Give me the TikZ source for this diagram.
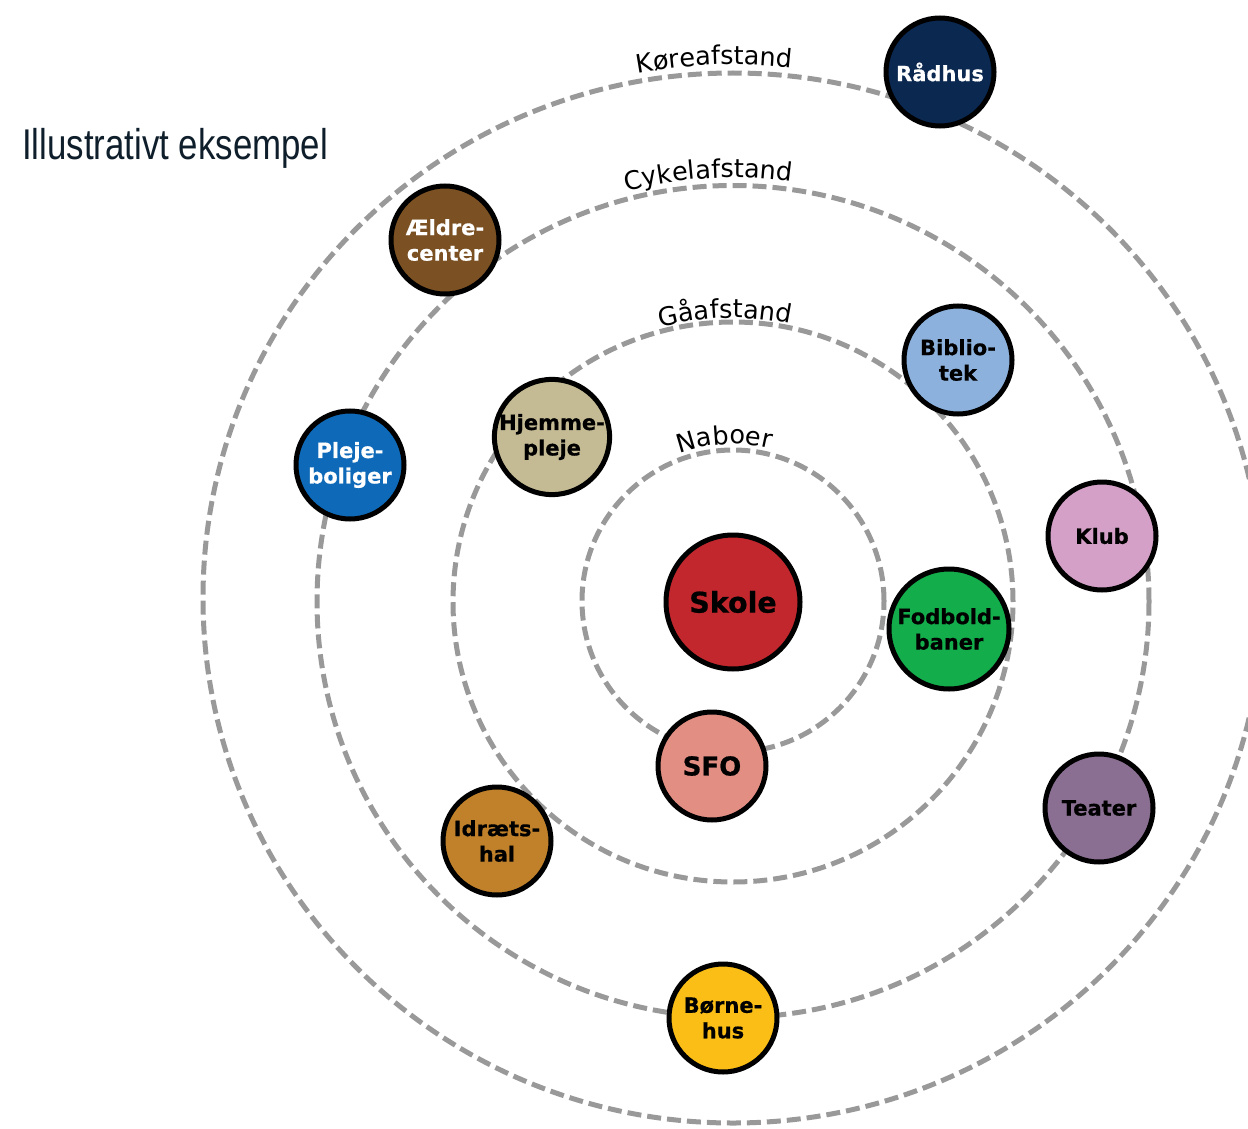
\documentclass[tikz,border=0pt]{standalone}
\usepackage{fontspec}
\usetikzlibrary{decorations.text}
\newfontfamily\dejavu{DejaVu Sans}
\newfontfamily\heavy[FakeBold=0.6]{DejaVu Sans Bold}
\newfontfamily\titlefont[FakeStretch=0.81]{Liberation Sans}
\newcommand{\arcfont}{\dejavu\fontsize{25.5}{30}\selectfont}
\definecolor{ringgray}{HTML}{999999}
\definecolor{titlecol}{HTML}{0F1E2B}
\definecolor{cSkole}{HTML}{C1272D}
\definecolor{cSFO}{HTML}{E28E83}
\definecolor{cFod}{HTML}{13AD4B}
\definecolor{cBib}{HTML}{8CB1DC}
\definecolor{cHjem}{HTML}{C4BB94}
\definecolor{cPleje}{HTML}{0E6AB8}
\definecolor{cAeld}{HTML}{7B5022}
\definecolor{cIdr}{HTML}{C1812B}
\definecolor{cKlub}{HTML}{D4A0C7}
\definecolor{cTeater}{HTML}{8A6F92}
\definecolor{cBorn}{HTML}{FBBE16}
\definecolor{cRaad}{HTML}{0A2850}
\begin{document}
\begin{tikzpicture}[x=1pt,y=1pt,
  poi/.style={circle, draw=black, line width=5pt, minimum size=108pt, inner sep=0pt, align=center,
    font=\heavy\fontsize{21}{25.5}\selectfont},
  ring/.style={draw=ringgray, line width=5pt, dash pattern=on 14pt off 6pt},
  arclabel/.style={decorate, decoration={text along path, text align=center, text={|\arcfont|#1}}}
]
\useasboundingbox (0,0) rectangle (1248,-1129);
\clip (0,0) rectangle (1248,-1129);

% centres of the rings
\coordinate (O1) at (733,-601);
\coordinate (O2) at (733,-602);
\coordinate (O3) at (733,-601.5);
\coordinate (O4) at (733,-598);

% rings
\draw[ring] (O1) circle[radius=151];
\draw[ring] (O2) circle[radius=280];
\draw[ring] (O3) circle[radius=416];
\draw[ring] (O4) ellipse[x radius=530, y radius=525];

% ring labels
\path[arclabel=Naboer] ([shift={(123:157)}]O1) arc[start angle=123, end angle=63, radius=157];
\path[arclabel=Gåafstand] ([shift={(116.6:284)}]O2) arc[start angle=116.6, end angle=66.6, radius=284];
\path[arclabel=Cykelafstand] ([shift={(113.3:424)}]O3) arc[start angle=113.3, end angle=73.3, radius=424];
\path[arclabel=Køreafstand] ([shift={(107:533.5)}]O4) arc[start angle=107, end angle=77, radius=533.5];

% title
\node[anchor=base west, inner sep=0pt, text=titlecol, font=\titlefont\fontsize{43}{50}\selectfont] (title) at (22,-160) {Illustrativt eksempel};

% places
\node[poi, fill=cSkole, minimum size=134pt, font=\heavy\fontsize{28.5}{34}\selectfont] (skole) at (733,-602) {Skole};
\node[poi, fill=cSFO, font=\heavy\fontsize{26}{31}\selectfont] (sfo) at (712,-766) {SFO};
\node[poi, fill=cFod, minimum size=120pt] (fod) at (949,-629) {Fodbold-\\baner};
\node[poi, fill=cBib] (bib) at (958,-360) {Biblio-\\tek};
\node[poi, fill=cHjem, minimum size=113pt] (hjem) at (552,-437) {Hjemme-\\pleje};
\node[poi, fill=cPleje, text=white] (pleje) at (350,-465) {Pleje-\\boliger};
\node[poi, fill=cAeld, text=white] (aeld) at (445,-240) {Ældre-\\center};
\node[poi, fill=cIdr] (idr) at (497,-841) {Idræts-\\hal};
\node[poi, fill=cKlub] (klub) at (1102,-536) {Klub};
\node[poi, fill=cTeater] (teater) at (1099,-808) {Teater};
\node[poi, fill=cBorn] (born) at (723,-1018) {Børne-\\hus};
\node[poi, fill=cRaad, text=white] (raad) at (940,-72) {Rådhus};
\end{tikzpicture}
\end{document}
